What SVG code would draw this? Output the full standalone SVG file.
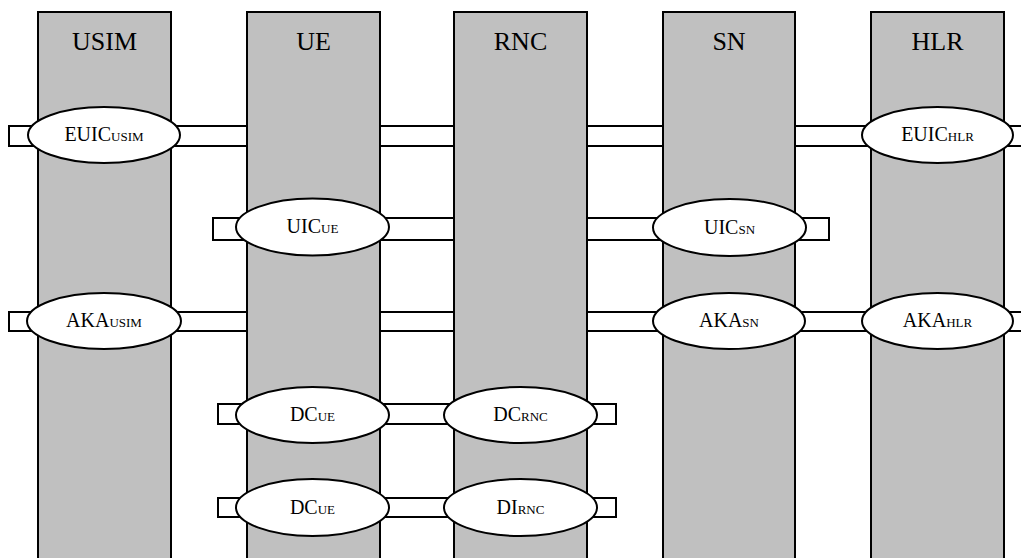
<svg xmlns="http://www.w3.org/2000/svg" width="1021" height="558" viewBox="0 0 1021 558">
<style>
.band{fill:#fff;stroke:#000;stroke-width:2}
.bar{fill:#c0c0c0;stroke:#000;stroke-width:2}
.ell{fill:#fff;stroke:#000;stroke-width:2}
text{font-family:'Liberation Serif','Times New Roman',serif;fill:#000;text-anchor:middle}
.head{font-size:26px}
.lbl{font-size:20px}
.sub{font-size:13px}
</style>
<g id="connectors">
<rect class="band" x="9" y="126" width="1020" height="20"/>
<rect class="band" x="213" y="218" width="616" height="22"/>
<rect class="band" x="9" y="312" width="1020" height="19"/>
<rect class="band" x="218" y="404" width="398" height="20"/>
<rect class="band" x="218" y="498" width="398" height="19"/>
</g>
<g id="USIM"><rect class="bar" x="38" y="12" width="133" height="560"/><text class="head" x="104.5" y="50">USIM</text></g>
<g id="UE"><rect class="bar" x="247" y="12" width="133" height="560"/><text class="head" x="313.5" y="50">UE</text></g>
<g id="RNC"><rect class="bar" x="454" y="12" width="133" height="560"/><text class="head" x="520.5" y="50">RNC</text></g>
<g id="SN"><rect class="bar" x="663" y="12" width="132" height="560"/><text class="head" x="729" y="50">SN</text></g>
<g id="HLR"><rect class="bar" x="871" y="12" width="133" height="560"/><text class="head" x="937.5" y="50">HLR</text></g>
<g id="EUIC_USIM"><ellipse class="ell" cx="104" cy="135" rx="76" ry="28"/><text class="lbl" x="104" y="141">EUIC<tspan class="sub">USIM</tspan></text></g>
<g id="EUIC_HLR"><ellipse class="ell" cx="937.5" cy="135" rx="75.5" ry="28"/><text class="lbl" x="937.5" y="141">EUIC<tspan class="sub">HLR</tspan></text></g>
<g id="UIC_UE"><ellipse class="ell" cx="312.5" cy="227" rx="76.5" ry="28.5"/><text class="lbl" x="312.5" y="233">UIC<tspan class="sub">UE</tspan></text></g>
<g id="UIC_SN"><ellipse class="ell" cx="729.5" cy="227.5" rx="76.5" ry="28.5"/><text class="lbl" x="729.5" y="233.5">UIC<tspan class="sub">SN</tspan></text></g>
<g id="AKA_USIM"><ellipse class="ell" cx="104" cy="321" rx="77" ry="28"/><text class="lbl" x="104" y="327">AKA<tspan class="sub">USIM</tspan></text></g>
<g id="AKA_SN"><ellipse class="ell" cx="729" cy="321" rx="76" ry="28"/><text class="lbl" x="729" y="327">AKA<tspan class="sub">SN</tspan></text></g>
<g id="AKA_HLR"><ellipse class="ell" cx="937.5" cy="321" rx="75.5" ry="28"/><text class="lbl" x="937.5" y="327">AKA<tspan class="sub">HLR</tspan></text></g>
<g id="DC_UE_1"><ellipse class="ell" cx="312.5" cy="415" rx="76.5" ry="28"/><text class="lbl" x="312.5" y="421">DC<tspan class="sub">UE</tspan></text></g>
<g id="DC_RNC"><ellipse class="ell" cx="520.5" cy="415" rx="76.5" ry="28"/><text class="lbl" x="520.5" y="421">DC<tspan class="sub">RNC</tspan></text></g>
<g id="DC_UE_2"><ellipse class="ell" cx="312.5" cy="507.5" rx="76.5" ry="28.5"/><text class="lbl" x="312.5" y="513.5">DC<tspan class="sub">UE</tspan></text></g>
<g id="DI_RNC"><ellipse class="ell" cx="520.5" cy="507.5" rx="76.5" ry="28.5"/><text class="lbl" x="520.5" y="513.5">DI<tspan class="sub">RNC</tspan></text></g>
</svg>
